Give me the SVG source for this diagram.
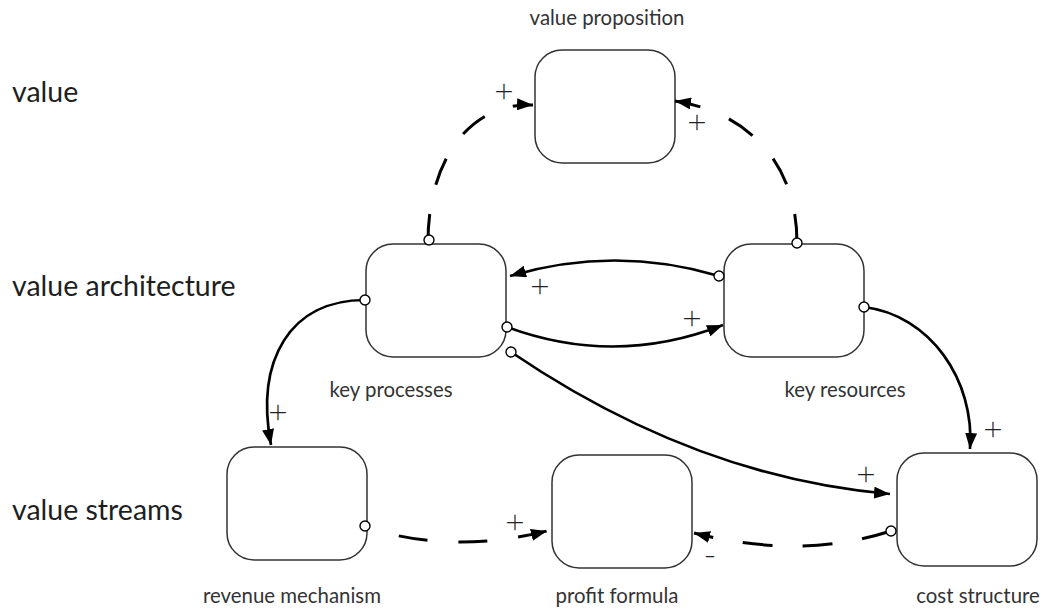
<svg xmlns="http://www.w3.org/2000/svg" width="1044" height="610" viewBox="0 0 1044 610">
  <style>
    .box { fill: #ffffff; stroke: #333333; stroke-width: 1.5; }
    .row { font-family: Lato, "Noto Sans", sans-serif; font-size: 28.5px; fill: #1e1e1e; }
    .lbl { font-family: Lato, "Noto Sans", sans-serif; font-size: 20.4px; fill: #333333; text-anchor: middle; }
    .link { fill: none; stroke: #000000; stroke-width: 2.7; marker-end: url(#arrow); }
    .dash { stroke-width: 3; stroke-dasharray: 28 30; }
    .port { fill: #ffffff; stroke: #000000; stroke-width: 1.4; }
    .pol { font-family: "Noto Sans", "DejaVu Sans", sans-serif; font-weight: 200; font-size: 34px; fill: #222222; text-anchor: middle; }
  </style>
  <defs>
    <marker id="arrow" viewBox="0 0 16 12" refX="16" refY="6" markerWidth="16" markerHeight="12" markerUnits="userSpaceOnUse" orient="auto">
      <path d="M0,0 L16,6 L0,12 z" fill="#000000"/>
    </marker>
  </defs>
  <rect width="1044" height="610" fill="#ffffff"/>

  <!-- row headings -->
  <g id="rows">
    <text class="row" x="12" y="102">value</text>
    <text class="row" x="12" y="296">value architecture</text>
    <text class="row" x="12" y="520">value streams</text>
  </g>

  <!-- nodes -->
  <g id="value-proposition">
    <rect class="box" x="535" y="50" width="140" height="113" rx="27"/>
    <text class="lbl" x="607" y="25">value proposition</text>
  </g>
  <g id="key-processes">
    <rect class="box" x="366" y="244" width="140" height="113" rx="27"/>
    <text class="lbl" x="391" y="397">key processes</text>
  </g>
  <g id="key-resources">
    <rect class="box" x="724" y="244" width="140" height="113" rx="27"/>
    <text class="lbl" x="845" y="397">key resources</text>
  </g>
  <g id="revenue-mechanism">
    <rect class="box" x="227" y="447" width="140" height="113" rx="27"/>
    <text class="lbl" x="292" y="603">revenue mechanism</text>
  </g>
  <g id="profit-formula">
    <rect class="box" x="552" y="455" width="140" height="113" rx="27"/>
    <text class="lbl" x="617" y="603">profit formula</text>
  </g>
  <g id="cost-structure">
    <rect class="box" x="897" y="453" width="140" height="113" rx="27"/>
    <text class="lbl" x="978" y="603">cost structure</text>
  </g>

  <!-- connectors -->
  <g id="connectors">
    <path class="link dash" d="M428,242 C428,160 470,102 533,105"/>
    <path class="link dash" style="stroke-dasharray:29 31" d="M797,243 C797,160 745,112 675,101"/>
    <path class="link" d="M719,276 Q615,245 510,276"/>
    <path class="link" d="M507,327 Q615,367 723,325"/>
    <path class="link" d="M511,352 C611,420 740,481 890,494"/>
    <path class="link" d="M365,300 C290,300 255,360 271,445"/>
    <path class="link" d="M864,307 C930,315 975,380 970,449"/>
    <path class="link dash" style="stroke-dasharray:29 31;stroke-dashoffset:26" d="M366,527 Q450,555 547,531"/>
    <path class="link dash" style="stroke-dasharray:30 30" d="M891,531 Q800,560 694,533"/>

    <circle class="port" cx="429" cy="240" r="5"/>
    <circle class="port" cx="797" cy="243" r="5"/>
    <circle class="port" cx="719" cy="276" r="5"/>
    <circle class="port" cx="507" cy="327" r="5"/>
    <circle class="port" cx="511" cy="352" r="5"/>
    <circle class="port" cx="365" cy="300" r="5"/>
    <circle class="port" cx="864" cy="307" r="5"/>
    <circle class="port" cx="365" cy="526" r="5"/>
    <circle class="port" cx="891" cy="531" r="5"/>

    <!-- polarity marks -->
    <text class="pol" x="504" y="103">+</text>
    <text class="pol" x="697" y="134">+</text>
    <text class="pol" x="540" y="298">+</text>
    <text class="pol" x="692" y="330">+</text>
    <text class="pol" x="866" y="486">+</text>
    <text class="pol" x="993" y="441">+</text>
    <text class="pol" x="278" y="424">+</text>
    <text class="pol" x="515" y="534">+</text>
    <text class="pol" x="710" y="566">-</text>
  </g>
</svg>
